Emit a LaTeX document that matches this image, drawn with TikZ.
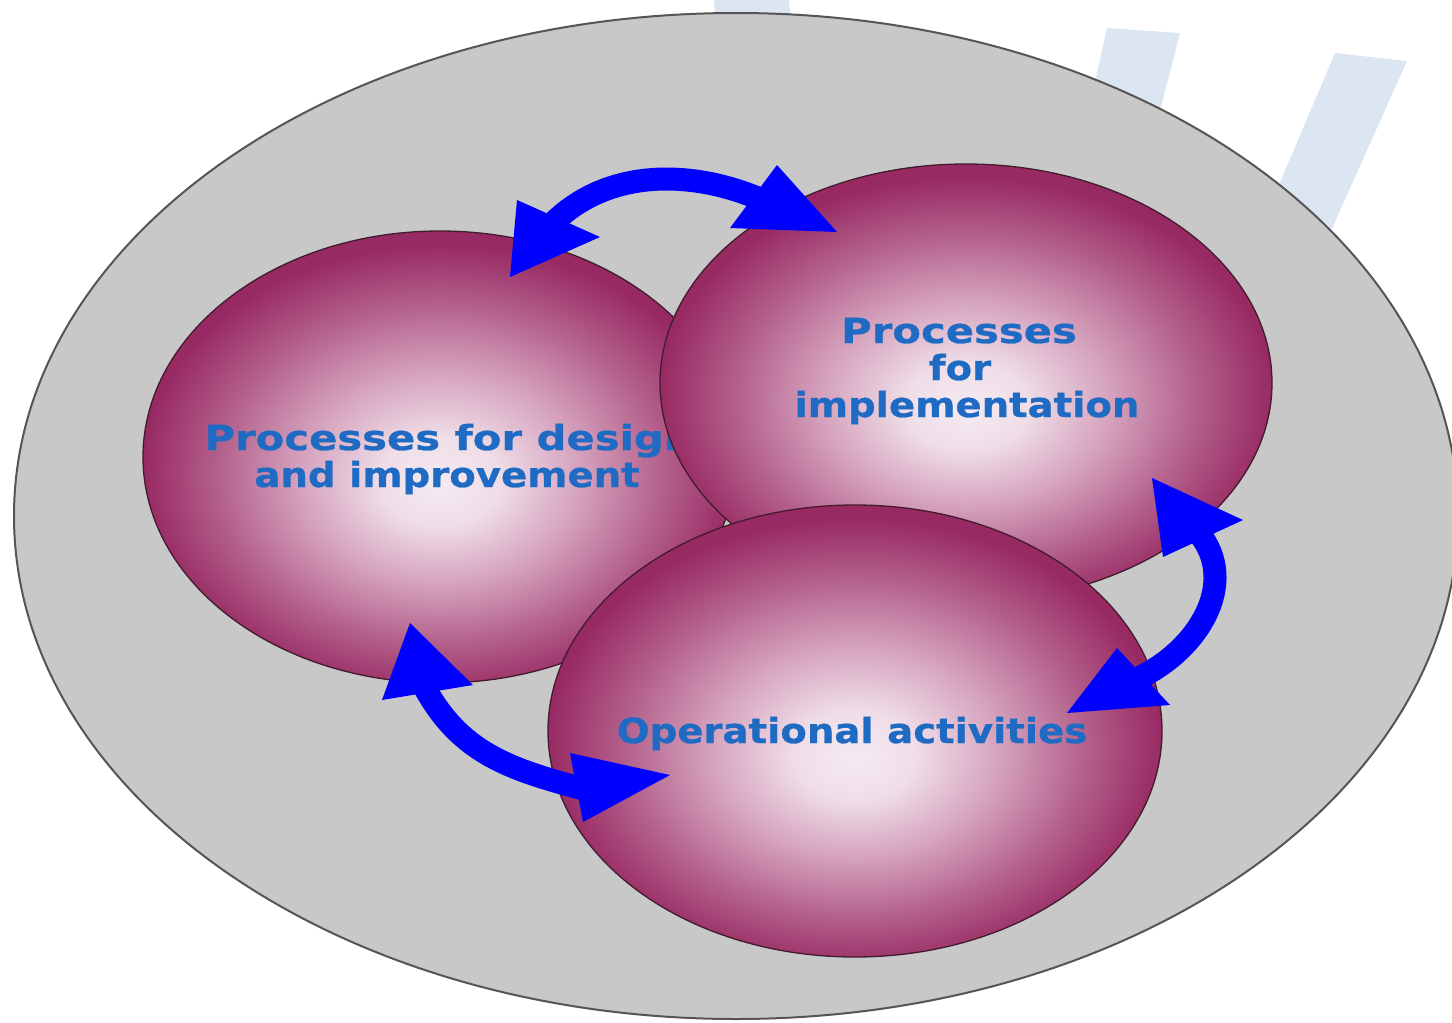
\documentclass[tikz,border=0pt]{standalone}
\usepackage{fontspec}
\newfontfamily\lblfont{DejaVu Sans}[FakeStretch=1.12,FakeBold=0.8]
\usetikzlibrary{shapes.geometric}
\definecolor{plategray}{RGB}{200,200,200}
\definecolor{plateline}{RGB}{85,85,85}
\definecolor{barblue}{RGB}{220,230,242}
\definecolor{arrowblue}{RGB}{0,0,255}
\definecolor{lblblue}{RGB}{31,107,196}
\definecolor{ballline}{RGB}{65,28,45}
\definecolor{ballc0}{RGB}{245,235,242}
\definecolor{ballc1}{RGB}{239,221,231}
\definecolor{ballc2}{RGB}{212,160,188}
\definecolor{ballc3}{RGB}{178,94,138}
\definecolor{ballc4}{RGB}{152,42,99}
\pgfdeclareradialshading{ballshade}{\pgfpoint{0bp}{-3bp}}{%
  color(0bp)=(ballc0); color(5bp)=(ballc1); color(12bp)=(ballc2);
  color(19bp)=(ballc3); color(25bp)=(ballc4); color(50bp)=(ballc4)}
\begin{document}
\begin{tikzpicture}[x=1pt,y=-1pt,
  plate/.style={fill=plategray,draw=plateline,line width=2pt},
  ball/.style={ellipse,shading=ballshade,draw=ballline,line width=1.3pt,inner sep=0pt},
  lbl/.style={text=lblblue,font=\lblfont\bfseries\fontsize{34.5}{38}\selectfont,anchor=base,inner sep=0pt},
  wide/.style={xscale=1.08,transform shape},
  shaft/.style={draw=arrowblue,line width=23pt,shorten <=-8pt,shorten >=-8pt},
  head/.style={fill=arrowblue},
  bar/.style={fill=barblue}]
\useasboundingbox (0,0) rectangle (1452,1023);
% faint background bars
\fill[bar] (714,0) -- (789,0) -- (792,30) -- (716,30) -- cycle;
\fill[bar] (1107,28) -- (1180,33) -- (1150,150) -- (1080,150) -- cycle;
\fill[bar] (1335,53) -- (1407,61) -- (1300,300) -- (1247,260) -- cycle;
% plate
\draw[plate] (736,516) ellipse [x radius=722pt, y radius=503pt];
% left ball
\node[ball,minimum width=594pt,minimum height=452pt] (design) at (440,457) {};
\node[lbl,wide] (d1) at (449,450) {Processes for design};
\node[lbl] (d2) at (447,487) {and improvement};
% right ball
\node[ball,minimum width=612pt,minimum height=438pt] (impl) at (966,383) {};
\node[lbl,wide] (i1) at (959,343) {Processes};
\node[lbl] (i2) at (960,380) {for};
\node[lbl] (i3) at (967,417) {implementation};
% bottom ball
\node[ball,minimum width=614pt,minimum height=452pt] (oper) at (855,731) {};
\node[lbl] (o1) at (852,743) {Operational activities};
% arrows: design <-> implementation
\coordinate (a1s) at (558,218);
\coordinate (a1e) at (753,196);
\draw[shaft] (a1s) to[out=45,in=157,looseness=0.9] (a1e);
\fill[head] (510,277) -- (517,200) -- (600,237) -- cycle;
\fill[head] (837,232) -- (777,165) -- (730,228) -- cycle;
% implementation <-> operational
\coordinate (a2s) at (1203,538);
\coordinate (a2e) at (1143,676);
\draw[shaft] (a2s) to[out=-50,in=24] (a2e);
\fill[head] (1152,478) -- (1243,520) -- (1163,557) -- cycle;
\fill[head] (1067,713) -- (1117,648) -- (1170,705) -- cycle;
% design <-> operational
\coordinate (a3s) at (427,692);
\coordinate (a3e) at (576,787);
\draw[shaft] (a3s) to[out=-62,in=165] (a3e);
\fill[head] (410,623) -- (473,685) -- (382,700) -- cycle;
\fill[head] (670,775) -- (570,753) -- (583,822) -- cycle;
\end{tikzpicture}
\end{document}
